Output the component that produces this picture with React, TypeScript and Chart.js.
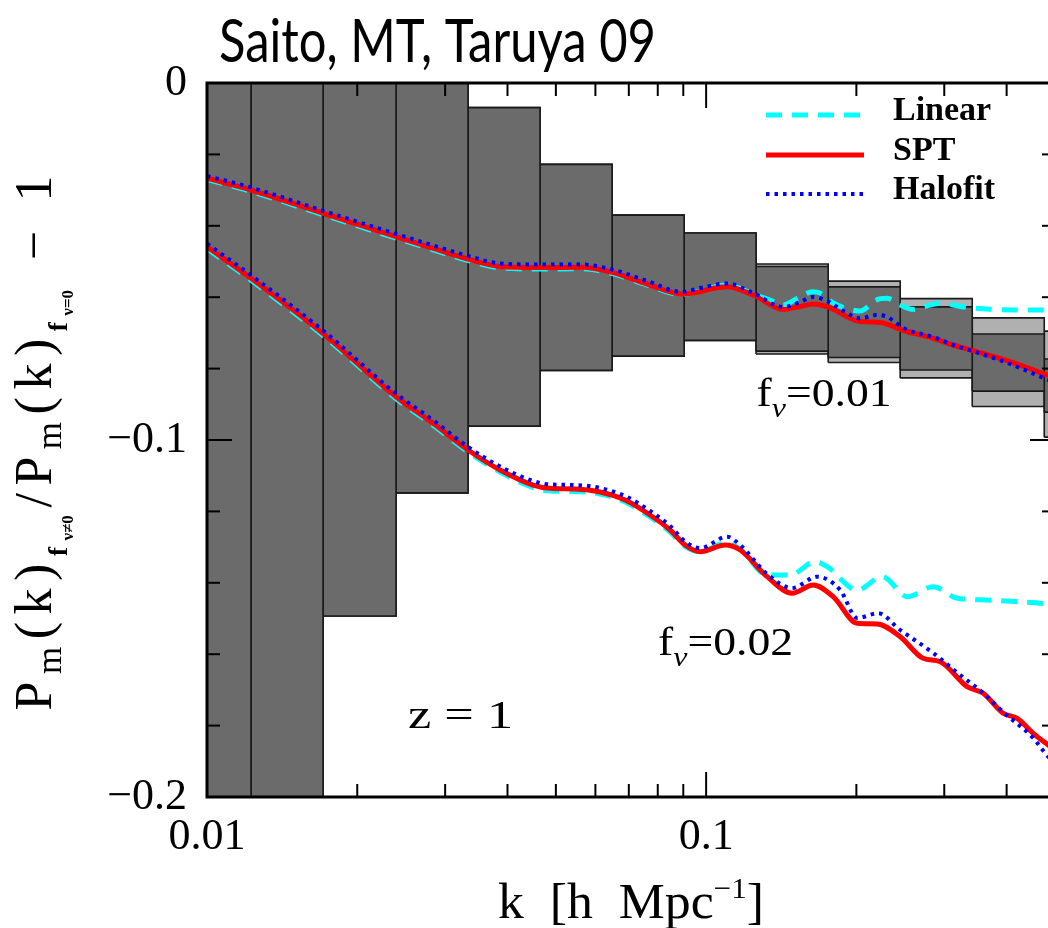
import React, { useEffect, useRef } from 'react';
import { Chart, registerables } from 'chart.js';

Chart.register(...registerables);

// ---------------- data ----------------
// bin edges (k) of the grey error boxes
const binEdges = [0.00879, 0.01225, 0.01708, 0.02392, 0.03334, 0.04648, 0.0648, 0.09034, 0.1259, 0.1756, 0.2448, 0.3413, 0.4758, 0.663];
const boxOuterHigh = [0.34, 0.23, 0.071, 0.028, -0.0069, -0.0228, -0.037, -0.042, -0.0507, -0.0555, -0.0604, -0.0658, -0.0695];
const boxOuterLow = [-0.4, -0.3, -0.1493, -0.1148, -0.0961, -0.0805, -0.0765, -0.0721, -0.0759, -0.0783, -0.0826, -0.0906, -0.0992];
const boxInnerHigh = [0.34, 0.23, 0.071, 0.028, -0.0069, -0.0228, -0.037, -0.042, -0.0514, -0.0571, -0.0627, -0.0703, -0.0773];
const boxInnerLow = [-0.4, -0.3, -0.1493, -0.1148, -0.0961, -0.0805, -0.0765, -0.0721, -0.0751, -0.0769, -0.0804, -0.0863, -0.0922];

// f_nu = 0.01
const linearK1 = [0.01, 0.01225, 0.01708, 0.02392, 0.02838, 0.03335, 0.03866, 0.04649, 0.05618, 0.06481, 0.07616, 0.08951, 0.09727, 0.11017, 0.12422, 0.13437, 0.14267, 0.15289, 0.16348, 0.16924, 0.1797, 0.18995, 0.20357, 0.21914, 0.23054, 0.24479, 0.25992, 0.27598, 0.29441, 0.3319, 0.37078, 0.4845, 0.5];
const linearV1 = [-0.02703, -0.03039, -0.03692, -0.04347, -0.04672, -0.04972, -0.05182, -0.0521, -0.05204, -0.05336, -0.05658, -0.05924, -0.05826, -0.05658, -0.0591, -0.06078, -0.06218, -0.06022, -0.05846, -0.05882, -0.06162, -0.06303, -0.06387, -0.06078, -0.06031, -0.06218, -0.06339, -0.06246, -0.06171, -0.06283, -0.06339, -0.06359, -0.06359];
const sptK1 = [0.01, 0.01225, 0.01708, 0.02392, 0.02838, 0.03335, 0.03866, 0.04649, 0.05618, 0.06481, 0.07616, 0.08951, 0.09727, 0.10186, 0.11017, 0.12422, 0.14267, 0.15431, 0.16386, 0.17479, 0.20357, 0.22321, 0.2505, 0.28504, 0.31258, 0.34918, 0.40661, 0.4845, 0.5];
const sptV1 = [-0.02669, -0.02997, -0.0365, -0.04305, -0.0463, -0.0493, -0.0514, -0.05168, -0.05162, -0.05303, -0.0563, -0.0591, -0.05846, -0.0577, -0.05706, -0.05938, -0.06345, -0.06261, -0.0619, -0.06266, -0.06681, -0.06709, -0.06947, -0.07151, -0.07339, -0.07527, -0.07807, -0.08193, -0.08263];
const halofitK1 = [0.01, 0.01225, 0.01708, 0.02392, 0.02838, 0.03335, 0.03866, 0.04649, 0.05618, 0.06481, 0.07616, 0.08951, 0.09727, 0.11017, 0.12422, 0.14267, 0.15431, 0.16386, 0.17479, 0.18995, 0.20357, 0.21914, 0.22842, 0.2505, 0.28504, 0.31258, 0.34918, 0.40661, 0.4845, 0.5];
const halofitV1 = [-0.02605, -0.02927, -0.0358, -0.0423, -0.04552, -0.04846, -0.05056, -0.05084, -0.05084, -0.05224, -0.05546, -0.05854, -0.05742, -0.05616, -0.05882, -0.06275, -0.06134, -0.05994, -0.06106, -0.06415, -0.06597, -0.06499, -0.06527, -0.06891, -0.07115, -0.07339, -0.07549, -0.07871, -0.08319, -0.08403];

// f_nu = 0.02
const linearK2 = [0.01, 0.01225, 0.01708, 0.02392, 0.02838, 0.03335, 0.03866, 0.04501, 0.04868, 0.05464, 0.06133, 0.06881, 0.07722, 0.08469, 0.09076, 0.09727, 0.10916, 0.11699, 0.13252, 0.14735, 0.16538, 0.17479, 0.20077, 0.22528, 0.25283, 0.28504, 0.3184, 0.36568, 0.42002, 0.4845, 0.5];
const linearV2 = [-0.04641, -0.05527, -0.07075, -0.08843, -0.09588, -0.10336, -0.10896, -0.11331, -0.11429, -0.11443, -0.11513, -0.11737, -0.12157, -0.12577, -0.12983, -0.13137, -0.12885, -0.13053, -0.13782, -0.13782, -0.13409, -0.13549, -0.14202, -0.13829, -0.14389, -0.14109, -0.14434, -0.14482, -0.14529, -0.14594, -0.14622];
const sptK2 = [0.01, 0.01225, 0.01708, 0.02392, 0.02838, 0.03335, 0.03866, 0.04501, 0.04868, 0.05464, 0.06133, 0.06881, 0.07722, 0.08469, 0.09076, 0.09727, 0.10916, 0.11699, 0.13252, 0.14872, 0.16386, 0.1797, 0.20077, 0.22015, 0.24479, 0.27219, 0.29441, 0.33344, 0.35898, 0.39367, 0.42002, 0.45216, 0.4845, 0.5];
const sptV2 = [-0.04585, -0.05471, -0.07019, -0.08787, -0.09532, -0.1028, -0.1084, -0.11261, -0.11353, -0.11373, -0.11457, -0.11681, -0.12101, -0.12521, -0.12941, -0.13129, -0.12941, -0.13081, -0.13829, -0.14294, -0.14062, -0.14389, -0.15134, -0.15154, -0.1551, -0.16115, -0.1621, -0.1691, -0.17095, -0.17655, -0.17796, -0.18216, -0.18543, -0.18683];
const halofitK2 = [0.01, 0.01225, 0.01708, 0.02392, 0.02838, 0.03335, 0.03866, 0.04501, 0.04868, 0.05464, 0.06133, 0.06881, 0.07722, 0.08469, 0.09076, 0.09727, 0.11017, 0.11699, 0.13252, 0.14872, 0.16691, 0.18561, 0.20077, 0.22117, 0.24479, 0.28504, 0.32284, 0.35898, 0.39367, 0.45216, 0.4845, 0.5];
const halofitV2 = [-0.04501, -0.05387, -0.06935, -0.08703, -0.09448, -0.10196, -0.10742, -0.11148, -0.11246, -0.11261, -0.11345, -0.11569, -0.11989, -0.12409, -0.12843, -0.13025, -0.12709, -0.12941, -0.13754, -0.14146, -0.13829, -0.14202, -0.14986, -0.14854, -0.15322, -0.15966, -0.16583, -0.17087, -0.17619, -0.18347, -0.18871, -0.1902];

// axes
const xMajorTicks = [0.01, 0.1];
const xTickLabels = ['0.01', '0.1'];
const xMinorTicks = [0.02, 0.03, 0.04, 0.05, 0.06, 0.07, 0.08, 0.09, 0.2, 0.3, 0.4];
const yMajorTicks = [0, -0.1, -0.2];
const yTickLabels = ['0', '\u22120.1', '\u22120.2'];
const yMinorTicks = [-0.02, -0.04, -0.06, -0.08, -0.12, -0.14, -0.16, -0.18];

const legendLabels = ['Linear', 'SPT', 'Halofit'];
const titleText = 'Saito, MT, Taruya 09';

// ---------------- styling helpers ----------------
const SERIF = '"Liberation Serif", "DejaVu Serif", "Times New Roman", serif';
const SANS = 'Lato, "Open Sans", "Noto Sans", sans-serif';

type Run = { text: string; size: number; dy?: number; bold?: boolean; italic?: boolean; family?: string; gap?: number; tight?: boolean };

const fontOf = (r: Run) => `${r.italic ? 'italic ' : ''}${r.bold ? 'bold ' : ''}${r.size}px ${r.family || SERIF}`;

function runsWidth(ctx: CanvasRenderingContext2D, runs: Run[]) {
  let w = 0;
  for (const r of runs) {
    ctx.font = fontOf(r);
    w += ctx.measureText(r.text).width + (r.gap || 0);
  }
  return w;
}

// draw runs, horizontally scaled to fit a target width
function drawRuns(ctx: CanvasRenderingContext2D, runs: Run[], x: number, y: number, targetW?: number) {
  const w = runsWidth(ctx, runs);
  const sx = targetW ? targetW / w : 1;
  ctx.save();
  ctx.translate(x, y);
  ctx.scale(sx, 1);
  ctx.textAlign = 'left';
  ctx.textBaseline = 'alphabetic';
  let cx = 0;
  for (const r of runs) {
    ctx.font = fontOf(r);
    ctx.fillText(r.text, cx, r.dy || 0);
    cx += ctx.measureText(r.text).width + (r.gap || 0);
  }
  ctx.restore();
}

// draw runs with letter-spacing spread to fit a target width (tight runs stay compact)
function drawRunsSpread(ctx: CanvasRenderingContext2D, runs: Run[], x: number, y: number, targetW: number) {
  let w = 0;
  let slots = 0;
  for (const r of runs) {
    ctx.font = fontOf(r);
    w += ctx.measureText(r.text).width + (r.gap || 0);
    slots += r.tight ? 1 : Array.from(r.text).length;
  }
  const extra = slots > 1 ? (targetW - w) / (slots - 1) : 0;
  ctx.save();
  ctx.textAlign = 'left';
  ctx.textBaseline = 'alphabetic';
  let cx = x;
  runs.forEach((r, ri) => {
    ctx.font = fontOf(r);
    const last = ri === runs.length - 1;
    if (r.tight) {
      ctx.fillText(r.text, cx, y + (r.dy || 0));
      cx += ctx.measureText(r.text).width + (last ? 0 : extra);
    } else {
      const chars = Array.from(r.text);
      chars.forEach((ch, ci) => {
        ctx.fillText(ch, cx, y + (r.dy || 0));
        cx += ctx.measureText(ch).width + (last && ci === chars.length - 1 ? 0 : extra);
      });
    }
    cx += r.gap || 0;
  });
  ctx.restore();
}

const zip = (ks: number[], vs: number[]) => ks.map((k, i) => ({ x: k, y: vs[i] }));

const CYAN = '#00ffff';
const RED = '#ff0000';
const BLUE = '#0000ff';

function curve(label: string, ks: number[], vs: number[], color: string, width: number, dash: number[], order: number) {
  return {
    label,
    data: zip(ks, vs),
    borderColor: color,
    backgroundColor: color,
    borderWidth: width,
    borderDash: dash,
    borderCapStyle: 'butt',
    borderJoinStyle: 'round',
    cubicInterpolationMode: 'monotone',
    fill: false,
    pointRadius: 0,
    order,
  };
}

function buildDatasets() {
  const ds: any[] = [];
  ds.push(curve('Halofit', halofitK1, halofitV1, BLUE, 4, [3.5, 5], 0));
  ds.push(curve('Halofit', halofitK2, halofitV2, BLUE, 4, [3.5, 5], 0));
  ds.push(curve('SPT', sptK1, sptV1, RED, 5, [], 0.1));
  ds.push(curve('SPT', sptK2, sptV2, RED, 5, [], 0.1));
  ds.push(curve('Linear', linearK1, linearV1, CYAN, 5, [16, 10], 0.2));
  ds.push(curve('Linear', linearK2, linearV2, CYAN, 5, [16, 10], 0.2));
  for (let i = 0; i < binEdges.length - 1; i++) {
    const k0 = binEdges[i];
    const k1 = binEdges[i + 1];
    const rect = (lo: number, hi: number) => [
      { x: k0, y: lo }, { x: k0, y: hi }, { x: k1, y: hi }, { x: k1, y: lo }, { x: k0, y: lo }, { x: k1, y: lo },
    ];
    ds.push({
      label: '', data: rect(boxOuterLow[i], boxOuterHigh[i]), borderColor: '#1a1a1a', borderWidth: 1.6,
      backgroundColor: '#b0b0b0', fill: 'shape', pointRadius: 0, tension: 0, order: 3,
    });
    ds.push({
      label: '', data: rect(boxInnerLow[i], boxInnerHigh[i]), borderColor: '#1a1a1a', borderWidth: 1.6,
      backgroundColor: '#6b6b6b', fill: 'shape', pointRadius: 0, tension: 0, order: 2,
    });
  }
  return ds;
}

const overlayPlugin = {
  id: 'overlay',
  afterDraw(chart: any) {
    const { ctx, chartArea: a, scales } = chart;
    const xs = scales.x;
    const ys = scales.y;
    ctx.save();
    ctx.fillStyle = '#000';
    ctx.strokeStyle = '#000';

    // ticks (inward, all four sides)
    ctx.lineWidth = 2;
    const seg = (x1: number, y1: number, x2: number, y2: number) => {
      ctx.beginPath();
      ctx.moveTo(x1, y1);
      ctx.lineTo(x2, y2);
      ctx.stroke();
    };
    const xt = (vals: number[], len: number) => vals.forEach((v) => {
      const p = xs.getPixelForValue(v);
      seg(p, a.bottom, p, a.bottom - len);
      seg(p, a.top, p, a.top + len);
    });
    const yt = (vals: number[], len: number) => vals.forEach((v) => {
      const p = ys.getPixelForValue(v);
      seg(a.left, p, a.left + len, p);
      seg(a.right, p, a.right - len, p);
    });
    xt(xMinorTicks, 13);
    xt(xMajorTicks, 25);
    yt(yMinorTicks, 13);
    yt(yMajorTicks, 25);

    // frame
    ctx.lineWidth = 3;
    ctx.strokeRect(a.left, a.top, a.right - a.left, a.bottom - a.top);

    // title
    drawRuns(ctx, [{ text: titleText, size: 60, family: SANS }], 219, 62, 437);

    // x-axis title
    const xRuns: Run[] = [
      { text: 'k  [h  Mpc', size: 50 },
      { text: '\u22121', size: 30, dy: -20 },
      { text: ']', size: 50 },
    ];
    drawRuns(ctx, xRuns, (a.left + a.right) / 2 - 133, 918, 266);

    // y-axis title (rotated)
    const yRuns: Run[] = [
      { text: 'P', size: 52 },
      { text: 'm', size: 35, dy: 10, tight: true },
      { text: '(k)', size: 52 },
      { text: 'f', size: 27, dy: 16, bold: true, tight: true, gap: -1 },
      { text: '\u03bd\u22600', size: 17, dy: 22, bold: true, tight: true },
      { text: '/', size: 52 },
      { text: 'P', size: 52 },
      { text: 'm', size: 35, dy: 10, tight: true },
      { text: '(k)', size: 52 },
      { text: 'f', size: 27, dy: 16, bold: true, tight: true, gap: -1 },
      { text: '\u03bd=0', size: 17, dy: 22, bold: true, tight: true, gap: 22 },
      { text: '\u2212', size: 52, gap: 22 },
      { text: '1', size: 52 },
    ];
    ctx.save();
    ctx.translate(51, 443);
    ctx.rotate(-Math.PI / 2);
    drawRunsSpread(ctx, yRuns, -535 / 2, 0, 535);
    ctx.restore();

    // annotations placed in data coordinates
    const ann = (k: number, v: number, runs: Run[], w: number) =>
      drawRuns(ctx, runs, xs.getPixelForValue(k), ys.getPixelForValue(v), w);
    ann(0.1262, -0.0906, [{ text: 'f', size: 40 }, { text: '\u03bd', size: 28, dy: 11, italic: true }, { text: '=0.01', size: 40 }], 135);
    ann(0.0801, -0.1602, [{ text: 'f', size: 40 }, { text: '\u03bd', size: 28, dy: 11, italic: true }, { text: '=0.02', size: 40 }], 135);
    ann(0.02528, -0.1807, [{ text: 'z = 1', size: 40 }], 105);

    // legend
    const rowsY = [115, 155, 194];
    legendLabels.forEach((lab, i) => {
      const d = chart.data.datasets.find((s: any) => s.label === lab);
      if (!d) return;
      const yy = rowsY[i];
      ctx.save();
      ctx.strokeStyle = d.borderColor;
      ctx.lineWidth = d.borderWidth;
      ctx.setLineDash(d.borderDash || []);
      ctx.lineCap = 'butt';
      seg(766, yy, 864, yy);
      ctx.restore();
      ctx.font = `bold 34px ${SERIF}`;
      ctx.textAlign = 'left';
      ctx.textBaseline = 'alphabetic';
      ctx.fillText(lab, 893, yy + 5);
    });

    ctx.restore();
  },
};

export default function App() {
  const ref = useRef<HTMLCanvasElement>(null);
  useEffect(() => {
    const canvas = ref.current;
    if (!canvas) return;
    const chart = new Chart(canvas, {
      type: 'line',
      data: { datasets: buildDatasets() },
      options: {
        responsive: false,
        animation: false,
        devicePixelRatio: 1,
        events: [],
        layout: { padding: { left: 0, top: 83, right: 15, bottom: 0 } },
        plugins: { legend: { display: false }, title: { display: false }, tooltip: { enabled: false } },
        elements: { point: { radius: 0 }, line: { tension: 0 } },
        scales: {
          x: {
            type: 'logarithmic',
            min: 0.01,
            max: 0.5,
            grid: { display: false, drawTicks: false },
            border: { display: false },
            ticks: {
              autoSkip: false,
              maxRotation: 0,
              minRotation: 0,
              padding: 14,
              color: '#000',
              font: { family: SERIF, size: 44 },
              callback: (_v: any, i: number) => xTickLabels[i] ?? '',
            },
            afterBuildTicks: (s: any) => { s.ticks = xMajorTicks.map((value) => ({ value })); },
            afterFit: (s: any) => { s.height = 928 - 797; },
          },
          y: {
            type: 'linear',
            min: -0.2,
            max: 0,
            grid: { display: false, drawTicks: false },
            border: { display: false },
            ticks: {
              padding: 20,
              color: '#000',
              font: { family: SERIF, size: 44 },
              callback: (_v: any, i: number) => yTickLabels[i] ?? '',
            },
            afterBuildTicks: (s: any) => { s.ticks = yMajorTicks.map((value) => ({ value })); },
            afterFit: (s: any) => { s.width = 207; },
          },
        },
      } as any,
      plugins: [overlayPlugin as any],
    });
    return () => chart.destroy();
  }, []);

  return (
    <div style={{ position: 'fixed', left: 0, top: 0, width: 1048, height: 928, overflow: 'hidden', background: '#fff' }}>
      <canvas ref={ref} width={1070} height={928} style={{ display: 'block', width: 1070, height: 928 }} />
    </div>
  );
}
